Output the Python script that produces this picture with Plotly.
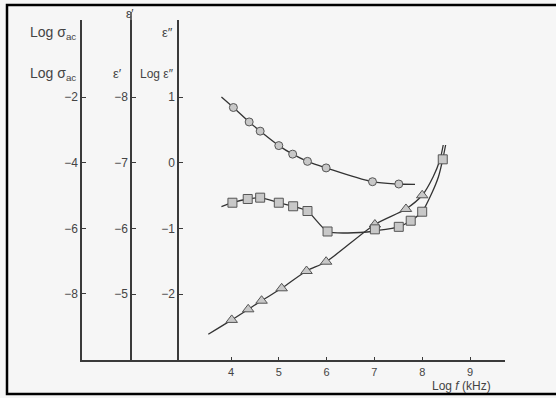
import plotly.graph_objects as go

# ---- data ----
x_ticks = [4, 5, 6, 7, 8, 9]
sigma_ticks = [-2, -4, -6, -8]
eps1_ticks = [-8, -7, -6, -5]
eps2_ticks = [1, 0, -1, -2]

# circles -> epsilon'
circ_x = [4.05, 4.38, 4.61, 5.0, 5.29, 5.6, 5.99, 6.96, 7.51]
circ_y = [-7.84, -7.62, -7.48, -7.26, -7.13, -7.02, -6.92, -6.71, -6.675]
circ_fit_x = [3.80, 4.05, 4.38, 4.61, 5.0, 5.29, 5.6, 5.99, 6.96, 7.51, 7.85]
circ_fit_y = [-8.0, -7.84, -7.62, -7.48, -7.26, -7.13, -7.02, -6.92, -6.71, -6.675, -6.67]

# squares -> log epsilon''
sq_x = [4.03, 4.35, 4.61, 5.0, 5.30, 5.60, 6.02, 7.01, 7.51, 7.76, 8.0, 8.43]
sq_y = [-0.61, -0.553, -0.533, -0.61, -0.664, -0.736, -1.048, -1.015, -0.977, -0.884, -0.747, 0.051]
sq_fit_x = [3.80, 4.03, 4.35, 4.61, 5.0, 5.30, 5.60, 6.02, 6.85, 7.0, 7.51, 7.76, 8.0, 8.2, 8.34, 8.43, 8.49]
sq_fit_y = [-0.67, -0.61, -0.553, -0.533, -0.61, -0.664, -0.736, -1.048, -1.056, -1.04, -0.977, -0.884, -0.747, -0.466, -0.214, 0.051, 0.269]

# triangles -> log sigma_ac
tri_x = [4.015, 4.36, 4.64, 5.06, 5.58, 5.99, 7.01, 7.66, 8.0]
tri_y = [-8.79, -8.467, -8.205, -7.827, -7.30, -7.017, -5.884, -5.411, -4.994]
tri_fit_x = [3.525, 4.015, 4.36, 4.64, 5.06, 5.58, 5.99, 7.01, 7.66, 8.0, 8.23, 8.37, 8.44]
tri_fit_y = [-9.228, -8.79, -8.467, -8.205, -7.827, -7.30, -7.017, -5.884, -5.411, -4.994, -4.428, -3.919, -3.462]

# ---- styling ----
W, H = 556, 398
ML, MR, MT, MB = 82, 51, 20, 38
PW, PH = W - ML - MR, H - MT - MB
AX = "#3a3a3a"
TXT = "#444444"
BG = "#f6f6f6"
MFILL = "#c8c8c8"
MLINE = "#555555"
CURVE = "#333333"
FONT = "Liberation Sans, Arial, sans-serif"


def px(xp):
    return (xp - ML) / PW


def py(yp):
    return (H - MB - yp) / PH


fig = go.Figure()

# fitted curves
fig.add_trace(go.Scatter(x=circ_fit_x, y=circ_fit_y, yaxis="y2", mode="lines",
                         line=dict(color=CURVE, width=1.3, shape="spline", smoothing=1.0),
                         hoverinfo="skip", showlegend=False))
fig.add_trace(go.Scatter(x=sq_fit_x, y=sq_fit_y, yaxis="y3", mode="lines",
                         line=dict(color=CURVE, width=1.3, shape="spline", smoothing=0.6),
                         hoverinfo="skip", showlegend=False))
fig.add_trace(go.Scatter(x=tri_fit_x, y=tri_fit_y, yaxis="y", mode="lines",
                         line=dict(color=CURVE, width=1.3, shape="spline", smoothing=0.8),
                         hoverinfo="skip", showlegend=False))

# markers
fig.add_trace(go.Scatter(x=circ_x, y=circ_y, yaxis="y2", mode="markers",
                         marker=dict(symbol="circle", size=8, color=MFILL,
                                     line=dict(color=MLINE, width=1)),
                         name="ε′", showlegend=False))
fig.add_trace(go.Scatter(x=sq_x, y=sq_y, yaxis="y3", mode="markers",
                         marker=dict(symbol="square", size=9, color=MFILL,
                                     line=dict(color=MLINE, width=1)),
                         name="Log ε″", showlegend=False))
fig.add_trace(go.Scatter(x=tri_x, y=tri_y, yaxis="y", mode="markers",
                         marker=dict(symbol="triangle-up", size=10, color=MFILL,
                                     line=dict(color=MLINE, width=1)),
                         name="Log σac", showlegend=False))


# pixel->data ranges
def yrange(val_at_97, px_per_unit, sign=1):
    top = val_at_97 + sign * (97 - MT) / px_per_unit
    bot = val_at_97 - sign * (H - MB - 97) / px_per_unit
    return [bot, top]


common_y = dict(showgrid=False, zeroline=False, showline=True, linecolor=AX, linewidth=1.5,
                ticks="inside", ticklen=4, tickcolor=AX, tickwidth=1.2,
                tickfont=dict(family=FONT, size=12, color=TXT))

fig.update_layout(
    width=W, height=H,
    margin=dict(l=ML, r=MR, t=MT, b=MB, pad=0),
    paper_bgcolor=BG, plot_bgcolor=BG,
    showlegend=False,
    font=dict(family=FONT, color=TXT),
    xaxis=dict(domain=[0, 1], range=[4 - (231 - ML) / 47.8, 4 + (W - MR - 231) / 47.8],
               tickvals=x_ticks, showgrid=False, zeroline=False, showline=True,
               linecolor=AX, linewidth=1.5, ticks="inside", ticklen=3, tickcolor=AX,
               tickfont=dict(family=FONT, size=11, color=TXT), ticklabelstandoff=1),
    yaxis=dict(range=yrange(-2, 32.83), tickvals=sigma_ticks, anchor="x", side="left",
               **common_y),
    yaxis2=dict(range=yrange(-8, 65.67, sign=-1), tickvals=eps1_ticks, overlaying="y",
                anchor="free", position=px(131), side="left", **common_y),
    yaxis3=dict(range=yrange(1, 65.67), tickvals=eps2_ticks, overlaying="y",
                anchor="free", position=px(178), side="left", **common_y),
)

shapes = [
    dict(type="rect", xref="paper", yref="paper", x0=px(7), x1=px(570), y0=py(394), y1=py(5),
         line=dict(color="#000000", width=2.5), fillcolor="rgba(0,0,0,0)", layer="above"),
    dict(type="line", xref="paper", yref="paper", x0=px(131), x1=px(131), y0=1, y1=py(12),
         line=dict(color=AX, width=1.5)),
]
fig.update_layout(shapes=shapes)

ann = [
    ("Log σ<sub>ac</sub>", 78, 33, "right", 14),
    ("Log σ<sub>ac</sub>", 78, 74, "right", 14),
    ("ε′", 130, 14, "center", 12),
    ("ε″", 175, 33, "right", 13),
    ("ε′", 124, 73, "right", 13),
    ("Log ε″", 176, 74, "right", 12),
    ("Log <i>f</i> (kHz)", 461, 386, "center", 12),
]
for t, xx, yy, xa, fs in ann:
    fig.add_annotation(text=t, xref="paper", yref="paper", x=px(xx), y=py(yy),
                       xanchor=xa, yanchor="middle", showarrow=False,
                       font=dict(family=FONT, size=fs, color=TXT))

fig.write_html("out.html")
